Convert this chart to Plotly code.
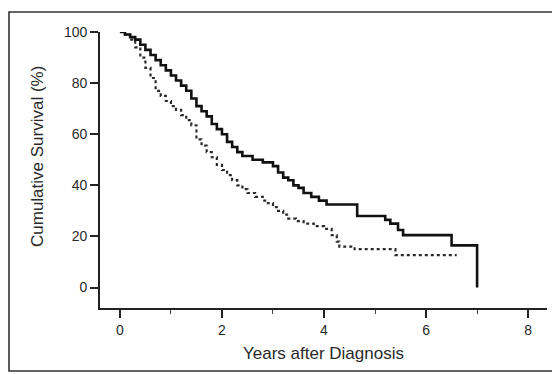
import plotly.graph_objects as go

# Group with better survival (solid line)
solid_t = [0, 0.1, 0.2, 0.3, 0.4, 0.5, 0.6, 0.7, 0.8, 0.9, 1.0, 1.1, 1.2, 1.3, 1.4, 1.5,
           1.6, 1.7, 1.8, 1.9, 2.0, 2.1, 2.2, 2.3, 2.4, 2.6, 2.8, 3.0, 3.1, 3.2, 3.3, 3.4,
           3.5, 3.6, 3.75, 3.9, 4.05, 4.65, 5.2, 5.3, 5.45, 5.55, 6.5, 7.0, 7.0]
solid_v = [100, 99, 98, 97, 95, 93, 91, 89, 87, 85, 83, 81, 79, 77, 74, 71,
           69, 67, 64, 62, 60, 57, 55, 53, 51.5, 50, 49, 47.5, 45, 43, 42, 40,
           39, 37, 35.5, 34, 32.5, 28, 26.5, 25, 22.5, 20.5, 16.5, 16.5, 0]

# Group with worse survival (dotted line)
dot_t = [0, 0.1, 0.2, 0.3, 0.4, 0.5, 0.6, 0.7, 0.8, 0.9, 1.0, 1.1, 1.2, 1.3, 1.4, 1.5,
         1.6, 1.7, 1.8, 1.9, 2.0, 2.1, 2.2, 2.3, 2.4, 2.5, 2.65, 2.8, 2.9, 3.0, 3.1, 3.2,
         3.3, 3.45, 3.6, 3.8, 4.0, 4.15, 4.25, 4.3, 4.6, 5.4, 6.6]
dot_v = [100, 99, 97, 94, 90, 86, 82, 77, 75, 73, 71, 69.5, 67.5, 65.5, 63.5, 58,
         55.5, 53, 51, 48, 46, 44, 42, 40, 38.5, 37, 35.5, 34, 33, 31.5, 30, 28.5,
         27, 26, 25, 24, 23, 20.5, 18, 16, 15, 12.7, 12.7]

y_ticks = [0, 20, 40, 60, 80, 100]
x_ticks = [0, 2, 4, 6, 8]
x_minor = [1, 3, 5, 7]

fig = go.Figure()
fig.add_trace(go.Scatter(x=dot_t, y=dot_v, mode="lines", line_shape="hv",
                         line=dict(color="#2a2a2a", width=2.2, dash="dot"),
                         showlegend=False))
fig.add_trace(go.Scatter(x=solid_t, y=solid_v, mode="lines", line_shape="hv",
                         line=dict(color="#111111", width=2.6),
                         showlegend=False))

# page has an 8px body margin: work in div coordinates (page - 8)
OFF = 8
L, T = 100 - OFF, 32 - OFF
W, H = 560, 374
pw, ph = 447, 276
R = W - L - pw
B = H - T - ph

def px_x(p):
    return (p - OFF - L) / pw

def px_y(p):
    return (T + ph - (p - OFF)) / ph

frame = dict(color="#333333", width=1.6)
xl, xr, yt, yb = px_x(9), px_x(620), px_y(12), px_y(371)
fig.add_shape(type="path", xref="paper", yref="paper",
              path=f"M {xr},{yt} L {xl},{yt} L {xl},{yb} L {xr},{yb}",
              line=frame, layer="below")

fig.add_annotation(xref="paper", yref="paper", x=px_x(323), y=px_y(353),
                   text="Years after Diagnosis", showarrow=False,
                   font=dict(size=17, color="#2a2a2a"), xanchor="center", yanchor="middle")
fig.add_annotation(xref="paper", yref="paper", x=px_x(37), y=px_y(157),
                   text="Cumulative Survival (%)", showarrow=False, textangle=-90,
                   font=dict(size=17, color="#2a2a2a"), xanchor="center", yanchor="middle")

fig.update_layout(
    width=W, height=H,
    margin=dict(l=L, r=R, t=T, b=B, autoexpand=False),
    paper_bgcolor="white", plot_bgcolor="white",
    font=dict(family="Liberation Sans, Arial, sans-serif", color="#2a2a2a"),
    xaxis=dict(range=[-0.39, 8.37], tickvals=x_ticks, ticktext=[str(v) for v in x_ticks],
               showline=True, linecolor="#222222", linewidth=1.6,
               ticks="outside", ticklen=8, tickwidth=1.6, tickcolor="#222222",
               minor=dict(tickvals=x_minor, ticks="outside", ticklen=4,
                          tickwidth=1.4, tickcolor="#444444"),
               showgrid=False, zeroline=False, tickfont=dict(size=14, color="#2a2a2a")),
    yaxis=dict(range=[-8, 100], tickvals=y_ticks, ticktext=[str(v) for v in y_ticks],
               showline=True, linecolor="#222222", linewidth=1.6,
               ticks="outside", ticklen=8, tickwidth=1.6, tickcolor="#222222",
               showgrid=False, zeroline=False, tickfont=dict(size=14, color="#2a2a2a")),
)

fig.write_html("out.html")
